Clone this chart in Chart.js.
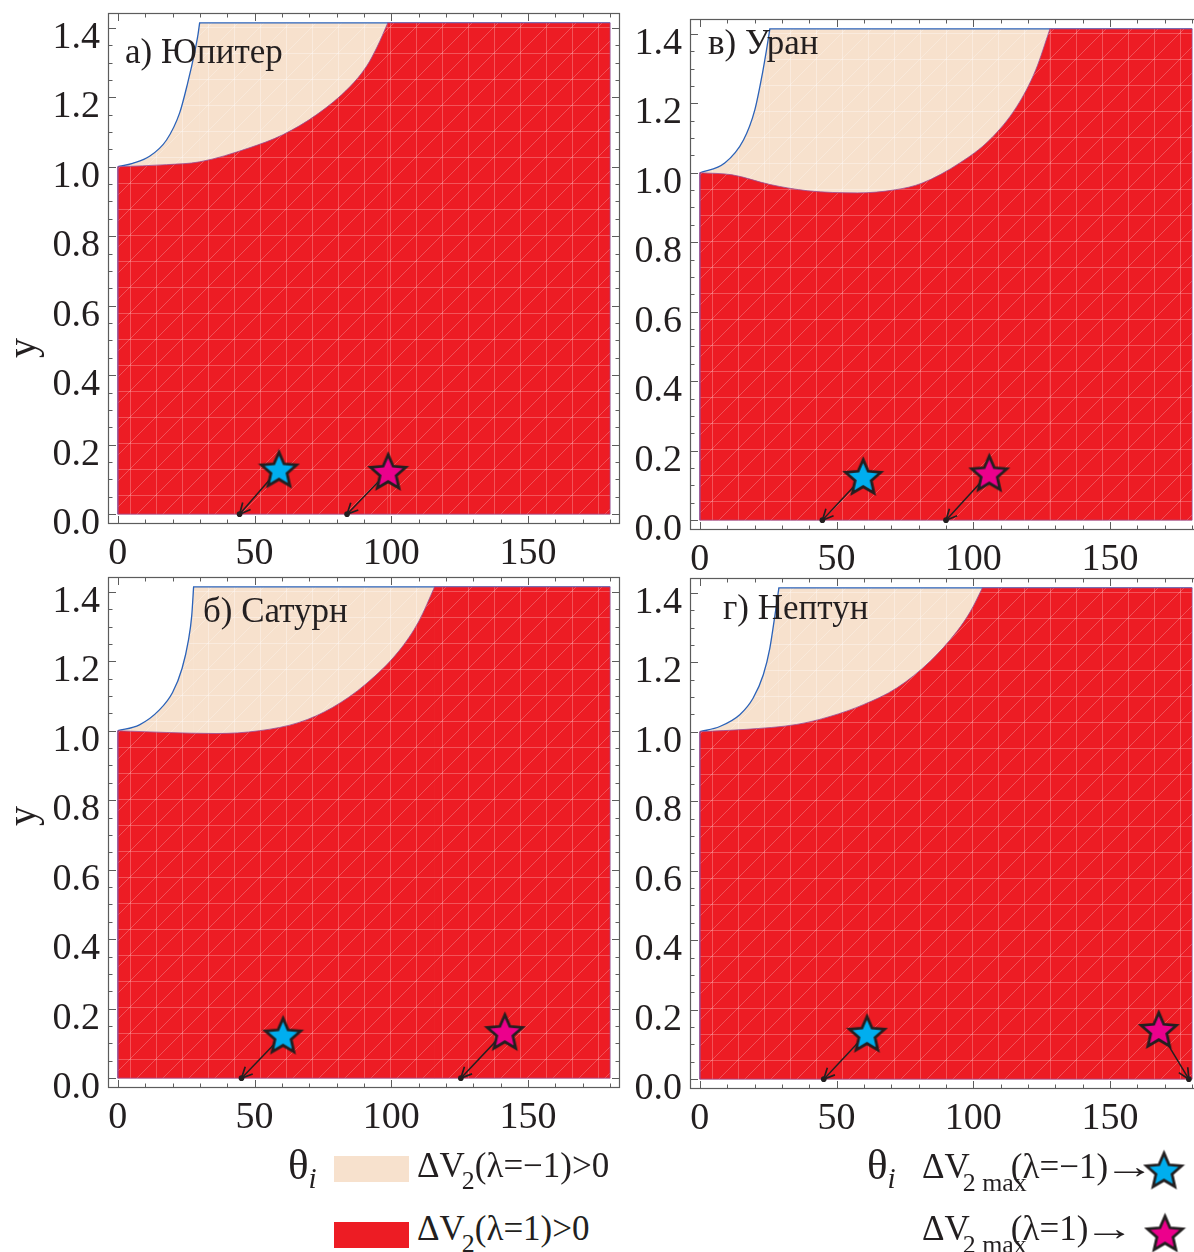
<!DOCTYPE html>
<html>
<head>
<meta charset="utf-8">
<script src="https://cdn.jsdelivr.net/npm/chart.js@4.4.1/dist/chart.umd.min.js"></script>
<style>
  html, body { margin: 0; padding: 0; background: #fff; overflow: hidden; }
  body { width: 1194px; height: 1252px; position: relative; color: #231f20;
         font-family: 'Liberation Serif', 'Times New Roman', serif; }
  canvas.panel { position: absolute; }
  .lbl { position: absolute; white-space: nowrap; line-height: 1; }
  .sub { position: relative; font-size: 0.74em; }
  .arr { display: inline-block; margin-left: -4px; transform: scaleX(1.45); transform-origin: left center; }
  .swatch { position: absolute; width: 75px; height: 26px; }
</style>
</head>
<body>

<canvas class="panel" id="pA" width="632" height="583" style="left:0px;top:1px"></canvas>
<canvas class="panel" id="pV" width="632" height="583" style="left:582px;top:7px"></canvas>
<canvas class="panel" id="pB" width="632" height="583" style="left:0px;top:565px"></canvas>
<canvas class="panel" id="pG" width="632" height="583" style="left:582px;top:566px"></canvas>

<!-- panel titles -->
<div class="lbl" style="left:125px;top:34px;font-size:35px">а) Юпитер</div>
<div class="lbl" style="left:708px;top:25px;font-size:35px">в) Уран</div>
<div class="lbl" style="left:203px;top:593px;font-size:35px">б) Сатурн</div>
<div class="lbl" style="left:723px;top:590px;font-size:35px">г) Нептун</div>

<!-- y axis labels -->
<div class="lbl" style="left:12px;top:328px;font-size:40px;transform:rotate(-90deg)">y</div>
<div class="lbl" style="left:12px;top:796px;font-size:40px;transform:rotate(-90deg)">y</div>

<!-- left legend -->
<div class="lbl" style="left:288px;top:1143px;font-size:43px">θ<i class="sub" style="top:9px;font-size:0.68em">i</i></div>
<div class="swatch" style="left:334px;top:1156px;background:#f7e1cd"></div>
<div class="lbl" style="left:417px;top:1148px;font-size:35px">ΔV<span class="sub" style="top:12px;margin-left:-3px">2</span>(λ=−1)&gt;0</div>
<div class="swatch" style="left:334px;top:1222px;background:#ed1c24"></div>
<div class="lbl" style="left:417px;top:1211px;font-size:35px">ΔV<span class="sub" style="top:12px;margin-left:-3px">2</span>(λ=1)&gt;0</div>

<!-- right legend -->
<div class="lbl" style="left:867px;top:1143px;font-size:43px">θ<i class="sub" style="top:9px;font-size:0.68em">i</i></div>
<div class="lbl" style="left:922px;top:1149px;font-size:35px">ΔV<span class="sub" style="top:13px;margin-left:-7px;margin-right:-16px">2 max</span>(λ=−1)<span class="arr">→</span></div>
<canvas id="legStarC" width="44" height="44" style="position:absolute;left:1142px;top:1148px"></canvas>
<div class="lbl" style="left:922px;top:1211px;font-size:35px">ΔV<span class="sub" style="top:13px;margin-left:-7px;margin-right:-16px">2 max</span>(λ=1)<span class="arr">→</span></div>
<canvas id="legStarM" width="44" height="44" style="position:absolute;left:1143px;top:1211px"></canvas>

<script>
// values
const thetaTicks = [0, 50, 100, 150];
const yTicks = [0, 0.2, 0.4, 0.6, 0.8, 1.0, 1.2, 1.4];
const thetaMinorStep = 10;
const yMinorStep = 0.05;
const thetaEnd = 180;
const yTop = 1.414;

// а) Юпитер
const jupUpperX = [0, 5.4, 11.6, 17.8, 22.6, 25.5, 28.1, 29.3, 29.9];
const jupUpperY = [1.0, 1.01, 1.03, 1.077, 1.155, 1.24, 1.33, 1.38, 1.414];
const jupLowerX = [0, 17.8, 29.9, 47.9, 60.3, 72.7, 84.8, 91.0, 94.8, 98.7];
const jupLowerY = [1.0, 1.006, 1.014, 1.054, 1.092, 1.15, 1.23, 1.29, 1.345, 1.414];
const jupStarX = [58.9, 98.8];
const jupStarY = [0.130, 0.123];
const jupTargetX = [44.5, 83.8];

// в) Уран
const uraUpperX = [0, 9.1, 16.0, 20.1, 22.9, 24.3, 25.6];
const uraUpperY = [1.0, 1.028, 1.095, 1.181, 1.287, 1.35, 1.414];
const uraLowerX = [0, 11.8, 25.7, 39.5, 57.6, 71.5, 81.2, 95.0, 106.0, 115.9, 122.8, 128.0];
const uraLowerY = [1.0, 0.994, 0.966, 0.948, 0.942, 0.951, 0.970, 1.028, 1.095, 1.191, 1.296, 1.414];
const uraStarX = [59.7, 105.8];
const uraStarY = [0.126, 0.136];
const uraTargetX = [44.8, 90.0];

// б) Сатурн
const satUpperX = [0, 7.9, 15.2, 20.0, 23.5, 25.8, 27.0, 27.7];
const satUpperY = [1.0, 1.017, 1.06, 1.11, 1.18, 1.26, 1.33, 1.414];
const satLowerX = [0, 17.7, 35.9, 51.7, 66.3, 78.5, 90.6, 102.8, 110.1, 115.8];
const satLowerY = [1.0, 0.995, 0.992, 1.0, 1.024, 1.067, 1.134, 1.23, 1.316, 1.414];
const satStarX = [60.4, 141.5];
const satStarY = [0.124, 0.134];
const satTargetX = [45.2, 125.4];

// г) Нептун
const nepUpperX = [0, 7.3, 14.6, 19.5, 23.2, 25.6, 27.3, 28.9];
const nepUpperY = [1.0, 1.015, 1.049, 1.097, 1.164, 1.241, 1.327, 1.414];
const nepLowerX = [0, 17.1, 35.4, 47.6, 59.8, 72.0, 84.2, 94.0, 98.9, 103.3];
const nepLowerY = [1.0, 1.007, 1.021, 1.044, 1.078, 1.126, 1.203, 1.289, 1.346, 1.414];
const nepStarX = [61.1, 167.8];
const nepStarY = [0.132, 0.143];
const nepTargetX = [45.3, 178.8];

const RED = '#ed1c24';
const BEIGE = '#f7e1cd';
const CYAN = '#00aeef';
const MAGENTA = '#ec008c';
const INK = '#231f20';
const BLUE_EDGE = '#2b62b8';
const RED_EDGE = 'rgba(150,80,150,0.8)';

Chart.defaults.font.family = "'Liberation Serif', 'Times New Roman', serif";
Chart.defaults.font.size = 38;
Chart.defaults.color = INK;

function makeStar(fill, r) {
  const size = Math.ceil(r * 2 + 6);
  const c = document.createElement('canvas');
  c.width = size; c.height = size;
  const g = c.getContext('2d');
  g.translate(size / 2, size / 2 + r * 0.09);
  g.beginPath();
  for (let k = 0; k < 10; k++) {
    const rad = k % 2 ? r * 0.46 : r;
    const a = -Math.PI / 2 + k * Math.PI / 5;
    g.lineTo(rad * Math.cos(a), rad * Math.sin(a));
  }
  g.closePath();
  g.fillStyle = fill;
  g.fill();
  g.lineWidth = 2.8;
  g.lineJoin = 'miter';
  g.strokeStyle = INK;
  g.stroke();
  return c;
}

// faint triangulation mesh like the exported region plot
function meshPattern(base, grid, diag) {
  const s = 26;
  const c = document.createElement('canvas');
  c.width = s; c.height = s;
  const g = c.getContext('2d');
  g.fillStyle = base;
  g.fillRect(0, 0, s, s);
  g.lineWidth = 1;
  g.strokeStyle = grid;
  g.beginPath();
  g.moveTo(0.5, 0); g.lineTo(0.5, s);
  g.moveTo(0, 0.5); g.lineTo(s, 0.5);
  g.stroke();
  g.lineWidth = 0.8;
  g.strokeStyle = diag;
  g.beginPath();
  g.moveTo(0, s); g.lineTo(s, 0);
  g.stroke();
  return g.createPattern(c, 'repeat');
}

const cyanStar = makeStar(CYAN, 18.5);
const magentaStar = makeStar(MAGENTA, 18.5);
const redFill = meshPattern(RED, 'rgba(255,190,190,0.35)', 'rgba(255,255,255,0.3)');
const beigeFill = meshPattern(BEIGE, 'rgba(255,255,255,0.35)', 'rgba(255,255,255,0.35)');

function toPoints(xs, ys) {
  return xs.map((x, i) => ({ x: x, y: ys[i] }));
}

const frameTicks = {
  id: 'frameTicks',
  afterDatasetsDraw(chart) {
    const { ctx, chartArea: a, scales: { x, y } } = chart;
    ctx.save();
    ctx.strokeStyle = '#5c5c5c';
    ctx.lineWidth = 1.2;
    ctx.strokeRect(a.left + 0.5, a.top + 0.5, a.width - 1, a.height - 1);
    ctx.lineWidth = 1;
    ctx.beginPath();
    for (let k = 0; k * thetaMinorStep <= thetaEnd; k++) {
      const v = k * thetaMinorStep;
      const px = Math.round(x.getPixelForValue(v)) + 0.5;
      const len = v % 50 === 0 ? 8 : 4.5;
      ctx.moveTo(px, a.bottom); ctx.lineTo(px, a.bottom - len);
      ctx.moveTo(px, a.top); ctx.lineTo(px, a.top + len);
    }
    for (let k = 0; k * yMinorStep <= 1.4 + 1e-9; k++) {
      const py = Math.round(y.getPixelForValue(k * yMinorStep)) + 0.5;
      const len = k % 4 === 0 ? 8 : 4.5;
      ctx.moveTo(a.left, py); ctx.lineTo(a.left + len, py);
      ctx.moveTo(a.right, py); ctx.lineTo(a.right - len, py);
    }
    ctx.stroke();
    ctx.restore();
  }
};

const arrowHeads = {
  id: 'arrowHeads',
  afterDatasetsDraw(chart) {
    const ctx = chart.ctx;
    chart.data.datasets.forEach((ds, i) => {
      if (!ds.arrow) return;
      const pts = chart.getDatasetMeta(i).data;
      const a = pts[0], b = pts[1];
      const ang = Math.atan2(b.y - a.y, b.x - a.x);
      ctx.save();
      ctx.strokeStyle = INK;
      ctx.lineWidth = 1.7;
      ctx.beginPath();
      [-0.45, 0.45].forEach(d => {
        ctx.moveTo(b.x, b.y);
        ctx.lineTo(b.x - 12 * Math.cos(ang + d), b.y - 12 * Math.sin(ang + d));
      });
      ctx.stroke();
      ctx.restore();
    });
  }
};

function noPad(ax) {
  ax.paddingTop = 0; ax.paddingBottom = 0;
  ax.paddingLeft = 0; ax.paddingRight = 0;
}

function drawPanel(id, upperX, upperY, lowerX, lowerY, starX, starY, targetX) {
  const upper = toPoints(upperX, upperY);
  const lower = toPoints(lowerX, lowerY);
  // flat top part of each region, from where its curve meets the top edge
  const upperTop = [{ x: upperX[upperX.length - 1] - 0.2, y: yTop }, { x: thetaEnd, y: yTop }];
  const lowerTop = [{ x: lowerX[lowerX.length - 1] - 0.2, y: yTop }, { x: thetaEnd, y: yTop }];
  const outline = [{ x: 0, y: 1.0 }, { x: 0, y: 0 }, { x: thetaEnd, y: 0 }, { x: thetaEnd, y: yTop }];

  const datasets = [
    { data: upper, fill: 'origin', backgroundColor: beigeFill, borderColor: BLUE_EDGE, borderWidth: 1.3,
      pointRadius: 0, cubicInterpolationMode: 'monotone', order: 6 },
    { data: upperTop, fill: 'origin', backgroundColor: beigeFill, borderColor: BLUE_EDGE, borderWidth: 1.3,
      pointRadius: 0, order: 6 },
    { data: lower, fill: 'origin', backgroundColor: redFill, borderColor: RED_EDGE, borderWidth: 1,
      pointRadius: 0, cubicInterpolationMode: 'monotone', order: 4 },
    { data: lowerTop, fill: 'origin', backgroundColor: redFill, borderColor: RED_EDGE, borderWidth: 1,
      pointRadius: 0, order: 4 },
    { data: outline, fill: false, borderColor: RED_EDGE, borderWidth: 1, pointRadius: 0, order: 3 }
  ];
  starX.forEach((sx, i) => {
    datasets.push({
      data: [{ x: sx, y: starY[i] }, { x: targetX[i], y: 0 }],
      arrow: true, fill: false, borderColor: INK, borderWidth: 1.5,
      pointRadius: [0, 2.8], pointBackgroundColor: INK, pointBorderWidth: 0, order: 2
    });
  });
  datasets.push({
    data: toPoints(starX, starY), showLine: false,
    pointStyle: [cyanStar, magentaStar], order: 1
  });

  new Chart(document.getElementById(id), {
    type: 'line',
    data: { datasets: datasets },
    options: {
      responsive: false,
      animation: false,
      events: [],
      layout: { padding: { top: 12, right: 12, left: 0, bottom: 0 } },
      plugins: { legend: { display: false }, tooltip: { enabled: false } },
      scales: {
        x: {
          type: 'linear', min: -3.6, max: 183.6,
          grid: { display: false, drawTicks: false }, border: { display: false },
          afterBuildTicks: ax => { ax.ticks = thetaTicks.map(v => ({ value: v })); },
          afterFit: ax => { ax.height = 60; noPad(ax); },
          ticks: { padding: 7, maxRotation: 0, autoSkip: false, callback: v => String(v) }
        },
        y: {
          type: 'linear', min: -0.0283, max: 1.4425,
          grid: { display: false, drawTicks: false }, border: { display: false },
          afterBuildTicks: ax => { ax.ticks = yTicks.map(v => ({ value: v })); },
          afterFit: ax => { ax.width = 108; noPad(ax); },
          ticks: { padding: 8, labelOffset: 10, autoSkip: false, callback: v => v.toFixed(1) }
        }
      }
    },
    plugins: [frameTicks, arrowHeads]
  });
}

function drawAll() {
  drawPanel('pA', jupUpperX, jupUpperY, jupLowerX, jupLowerY, jupStarX, jupStarY, jupTargetX);
  drawPanel('pV', uraUpperX, uraUpperY, uraLowerX, uraLowerY, uraStarX, uraStarY, uraTargetX);
  drawPanel('pB', satUpperX, satUpperY, satLowerX, satLowerY, satStarX, satStarY, satTargetX);
  drawPanel('pG', nepUpperX, nepUpperY, nepLowerX, nepLowerY, nepStarX, nepStarY, nepTargetX);

  // legend stars
  [['legStarC', cyanStar], ['legStarM', magentaStar]].forEach(([id, img]) => {
    const cv = document.getElementById(id);
    cv.getContext('2d').drawImage(img, (cv.width - img.width) / 2, (cv.height - img.height) / 2);
  });
}

// canvas text needs the serif face loaded first
document.fonts.load("38px 'Liberation Serif'").then(drawAll, drawAll);
</script>
</body>
</html>
